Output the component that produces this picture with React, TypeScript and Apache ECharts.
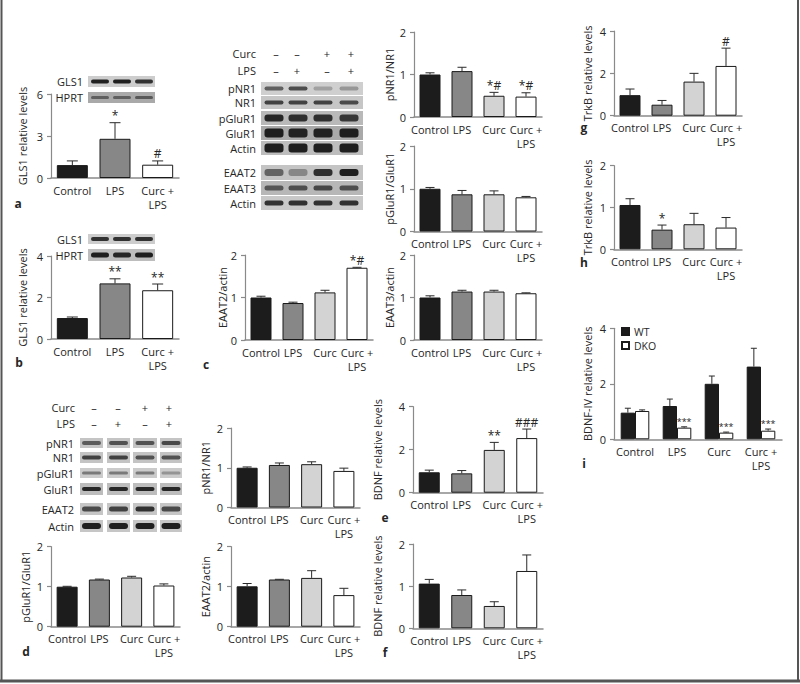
import { useEffect, useRef } from 'react';
import * as echarts from 'echarts';

const FONT = '"Open Sans", "DejaVu Sans", sans-serif';
const TXT = '#262626';
const AXIS = '#8a8a8a';

// ---------- categories ----------
const CATS3 = ['Control', 'LPS', 'Curc +\nLPS'];
const CATS4 = ['Control', 'LPS', 'Curc', 'Curc +\nLPS'];
const GROUPS_I = ['Control', 'LPS', 'Curc', 'Curc +\nLPS'];

// ---------- data ----------
// a
const glsA = [0.92, 2.8, 0.95];
const glsAErr = [0.3, 1.15, 0.27];
const glsASig = ['', '*', '#'];
// b
const glsB = [1.01, 2.68, 2.35];
const glsBErr = [0.05, 0.22, 0.3];
const glsBSig = ['', '**', '**'];
// c
const eaat2C = [1.0, 0.87, 1.12, 1.7];
const eaat2CErr = [0.03, 0.02, 0.05, 0.01];
const eaat2CSig = ['', '', '', '*#'];
// c right column
const pnr1C = [1.0, 1.08, 0.5, 0.48];
const pnr1CErr = [0.04, 0.09, 0.08, 0.09];
const pnr1CSig = ['', '', '*#', '*#'];
const pgluC = [1.0, 0.87, 0.87, 0.8];
const pgluCErr = [0.03, 0.09, 0.08, 0.02];
const eaat3C = [1.0, 1.14, 1.14, 1.1];
const eaat3CErr = [0.04, 0.03, 0.03, 0.01];
// g, h
const trkbG = [0.97, 0.52, 1.61, 2.35];
const trkbGErr = [0.29, 0.2, 0.39, 0.84];
const trkbGSig = ['', '', '', '#'];
const trkbH = [1.06, 0.47, 0.6, 0.52];
const trkbHErr = [0.15, 0.11, 0.26, 0.24];
const trkbHSig = ['', '*', '', ''];
// d
const pnr1D = [1.0, 1.07, 1.09, 0.92];
const pnr1DErr = [0.02, 0.05, 0.06, 0.07];
const pgluD = [1.0, 1.18, 1.23, 1.03];
const pgluDErr = [0.01, 0.01, 0.03, 0.04];
const eaat2D = [1.01, 1.18, 1.22, 0.79];
const eaat2DErr = [0.07, 0.005, 0.18, 0.17];
// e, f
const bdnfE = [0.95, 0.9, 1.99, 2.54];
const bdnfEErr = [0.1, 0.13, 0.35, 0.42];
const bdnfESig = ['', '', '**', '###'];
const bdnfF = [1.06, 0.79, 0.53, 1.36];
const bdnfFErr = [0.1, 0.12, 0.1, 0.38];
// i
const bdnfWT = [0.96, 1.2, 2.0, 2.62];
const bdnfWTErr = [0.16, 0.25, 0.28, 0.66];
const bdnfDKO = [1.02, 0.42, 0.24, 0.31];
const bdnfDKOErr = [0.04, 0.03, 0.02, 0.06];
const bdnfDKOSig = ['', '***', '***', '***'];

// ---------- blot band intensities ----------
const blotAGls1 = [0.95, 0.95, 0.85];
const blotAHprt = [0.5, 0.5, 0.55];
const blotBGls1 = [0.85, 0.85, 0.85];
const blotBHprt = [0.95, 0.9, 0.95];
const midPnr1 = [0.6, 0.7, 0.25, 0.3];
const midNr1 = [0.75, 0.75, 0.75, 0.7];
const midPglu = [0.9, 0.85, 0.85, 0.8];
const midGlu = [0.95, 0.92, 0.92, 0.95];
const midActin1 = [0.95, 0.95, 0.95, 0.95];
const midEaat2 = [0.55, 0.35, 0.85, 0.95];
const midEaat3 = [0.6, 0.65, 0.7, 0.65];
const midActin2 = [0.85, 0.85, 0.85, 0.85];
const dPnr1 = [0.6, 0.65, 0.65, 0.7];
const dNr1 = [0.75, 0.75, 0.65, 0.65];
const dPglu = [0.45, 0.45, 0.45, 0.3];
const dGlu = [0.9, 0.9, 0.9, 0.9];
const dEaat2 = [0.7, 0.75, 0.85, 0.7];
const dActin = [0.95, 0.95, 0.95, 0.95];

const FILL3 = ['#1c1c1c', '#878787', '#ffffff'];
const FILL4 = ['#1c1c1c', '#878787', '#d3d3d3', '#ffffff'];

type Panel = {
  cats: string[]; values: number[]; errs: number[]; sig?: string[];
  left: number; right: number; top: number; bottom: number;
  max: number; interval: number; barWidth: number; capW: number;
  ylabel: string; ylx: number; fills: string[];
};

const PANELS: Panel[] = [
  { cats: CATS3, values: glsA, errs: glsAErr, sig: glsASig, left: 51, right: 179, top: 94, bottom: 178, max: 6, interval: 3, barWidth: 31, capW: 11, ylabel: 'GLS1 relative levels', ylx: 22, fills: FILL3 },
  { cats: CATS3, values: glsB, errs: glsBErr, sig: glsBSig, left: 51, right: 179, top: 256, bottom: 339, max: 4, interval: 2, barWidth: 31, capW: 11, ylabel: 'GLS1 relative levels', ylx: 22, fills: FILL3 },
  { cats: CATS4, values: eaat2C, errs: eaat2CErr, sig: eaat2CSig, left: 245, right: 373, top: 255, bottom: 340, max: 2, interval: 1, barWidth: 21, capW: 9, ylabel: 'EAAT2/actin', ylx: 222, fills: FILL4 },
  { cats: CATS4, values: pnr1C, errs: pnr1CErr, sig: pnr1CSig, left: 414, right: 542, top: 32, bottom: 117, max: 2, interval: 1, barWidth: 21, capW: 9, ylabel: 'pNR1/NR1', ylx: 389, fills: FILL4 },
  { cats: CATS4, values: pgluC, errs: pgluCErr, left: 414, right: 542, top: 146, bottom: 231.5, max: 2, interval: 1, barWidth: 21, capW: 9, ylabel: 'pGluR1/GluR1', ylx: 389, fills: FILL4 },
  { cats: CATS4, values: eaat3C, errs: eaat3CErr, left: 414, right: 542, top: 255, bottom: 340, max: 2, interval: 1, barWidth: 21, capW: 9, ylabel: 'EAAT3/actin', ylx: 389, fills: FILL4 },
  { cats: CATS4, values: trkbG, errs: trkbGErr, sig: trkbGSig, left: 614, right: 742, top: 31, bottom: 115.7, max: 4, interval: 2, barWidth: 21, capW: 9, ylabel: 'TrkB relative levels', ylx: 587, fills: FILL4 },
  { cats: CATS4, values: trkbH, errs: trkbHErr, sig: trkbHSig, left: 614, right: 742, top: 165.7, bottom: 249.3, max: 2, interval: 1, barWidth: 21, capW: 9, ylabel: 'TrkB relative levels', ylx: 587, fills: FILL4 },
  { cats: CATS4, values: pnr1D, errs: pnr1DErr, left: 231, right: 360, top: 428, bottom: 507.5, max: 2, interval: 1, barWidth: 21, capW: 9, ylabel: 'pNR1/NR1', ylx: 205, fills: FILL4 },
  { cats: CATS4, values: pgluD, errs: pgluDErr, left: 51, right: 180, top: 546.7, bottom: 626.7, max: 2, interval: 1, barWidth: 21, capW: 9, ylabel: 'pGluR1/GluR1', ylx: 25, fills: FILL4 },
  { cats: CATS4, values: eaat2D, errs: eaat2DErr, left: 231, right: 360, top: 546.7, bottom: 626.7, max: 2, interval: 1, barWidth: 21, capW: 9, ylabel: 'EAAT2/actin', ylx: 205, fills: FILL4 },
  { cats: CATS4, values: bdnfE, errs: bdnfEErr, sig: bdnfESig, left: 413, right: 543, top: 406.7, bottom: 492.7, max: 4, interval: 2, barWidth: 21, capW: 9, ylabel: 'BDNF relative levels', ylx: 377, fills: FILL4 },
  { cats: CATS4, values: bdnfF, errs: bdnfFErr, left: 413, right: 543, top: 544, bottom: 628.3, max: 2, interval: 1, barWidth: 21, capW: 9, ylabel: 'BDNF relative levels', ylx: 377, fills: FILL4 },
];

const PANEL_I = { left: 614, right: 782, top: 328.3, bottom: 439.3, max: 4, interval: 2, barWidth: 14.3, capW: 6, ylabel: 'BDNF-IV relative levels', ylx: 587 };

const LETTERS: [string, number, number][] = [
  ['a', 18, 203], ['b', 19, 362], ['c', 206, 364], ['d', 26, 651], ['e', 385, 517],
  ['f', 385, 652], ['g', 584, 127], ['h', 584, 262], ['i', 584, 463],
];

function axesFor(i: number, p: { left: number; right: number; top: number; bottom: number; max: number; interval: number }, cats: string[]) {
  const grid = { left: p.left, top: p.top, width: p.right - p.left, height: p.bottom - p.top };
  const xAxis = {
    type: 'category', gridIndex: i, data: cats,
    axisLine: { lineStyle: { color: AXIS, width: 1.5 } },
    axisTick: { show: false },
    axisLabel: { interval: 0, margin: 5, fontSize: 11, lineHeight: 14, color: TXT, fontFamily: FONT },
  };
  const yAxis = {
    type: 'value', gridIndex: i, min: 0, max: p.max, interval: p.interval,
    splitLine: { show: false },
    axisLine: { show: true, lineStyle: { color: AXIS, width: 1.2 } },
    axisTick: { show: true, length: 4, lineStyle: { color: AXIS, width: 1.2 } },
    axisLabel: { margin: 8, fontSize: 11, color: TXT, fontFamily: FONT },
  };
  return { grid, xAxis, yAxis };
}

function errSeries(i: number, values: number[], errs: number[], sig: string[] | undefined, capW: number, off: number, sigSize: number) {
  return {
    type: 'custom', xAxisIndex: i, yAxisIndex: i, z: 5, silent: true,
    data: values.map((v, k) => [k, v, errs[k]]),
    renderItem: (params: any, api: any) => {
      const k = api.value(0), v = api.value(1), e = api.value(2);
      const base = api.coord([k, v]);
      const top = api.coord([k, v + e]);
      const x = base[0] + off;
      const children: any[] = [];
      if (e > 0.004) {
        children.push({ type: 'line', shape: { x1: x, y1: base[1], x2: x, y2: top[1] }, style: { stroke: '#2a2a2a', lineWidth: 1 } });
        children.push({ type: 'line', shape: { x1: x - capW / 2, y1: top[1], x2: x + capW / 2, y2: top[1] }, style: { stroke: '#2a2a2a', lineWidth: 1 } });
      }
      const s = sig ? sig[params.dataIndex] : '';
      if (s) {
        children.push({ type: 'text', style: { text: s, x, y: top[1] - 1, align: 'center', verticalAlign: 'bottom', fontSize: sigSize, fill: TXT, fontFamily: FONT } });
      }
      return { type: 'group', children };
    },
  };
}

function textEl(text: string, x: number, y: number, opts: any = {}) {
  return {
    type: 'text', x, y, silent: true, rotation: opts.rotation || 0,
    style: {
      text, fontSize: opts.fontSize || 11, fontFamily: FONT, fill: TXT,
      fontWeight: opts.fontWeight || 'normal',
      align: opts.align || 'center', verticalAlign: 'middle',
    },
  };
}

function stripEl(x0: number, x1: number, y0: number, y1: number, bg: string) {
  return { type: 'rect', silent: true, shape: { x: x0, y: y0, width: x1 - x0, height: y1 - y0 }, style: { fill: bg } };
}

function bandsEl(centers: number[], w: number, cy: number, h: number, inten: number[]) {
  return centers.map((cx, k) => ({
    type: 'rect', silent: true,
    shape: { x: cx - w / 2, y: cy - h / 2, width: w, height: h, r: Math.min(h / 2, 3) },
    style: { fill: `rgba(22,22,22,${inten[k]})` },
  }));
}

function blotGraphics() {
  const g: any[] = [];
  // a, b
  const abLanes = [100, 122, 144];
  const abRows: [string, number, number, number, string, number[]][] = [
    ['GLS1', 76, 87, 4, '#cdcdcd', blotAGls1],
    ['HPRT', 92, 103, 3, '#a9a9a9', blotAHprt],
    ['GLS1', 234, 244, 4, '#cdcdcd', blotBGls1],
    ['HPRT', 249, 261, 5, '#bdbdbd', blotBHprt],
  ];
  abRows.forEach(([lab, y0, y1, h, bg, inten]) => {
    g.push(stripEl(88, 155, y0, y1, bg));
    g.push(...bandsEl(abLanes, 18, (y0 + y1) / 2, h, inten));
    g.push(textEl(lab, 83, (y0 + y1) / 2, { align: 'right' }));
  });
  // middle blot
  const midLanes = [274, 298, 323, 349];
  const midRows: [string, number, number, number, string, number[]][] = [
    ['pNR1', 82, 95, 4, '#cfcfcf', midPnr1],
    ['NR1', 96, 109, 4, '#c6c6c6', midNr1],
    ['pGluR1', 111, 125, 7, '#b9b9b9', midPglu],
    ['GluR1', 126, 140, 9, '#a9a9a9', midGlu],
    ['Actin', 141, 155, 9, '#bdbdbd', midActin1],
    ['EAAT2', 165, 180, 7, '#c4c4c4', midEaat2],
    ['EAAT3', 181, 195, 5, '#b7b7b7', midEaat3],
    ['Actin', 196, 210, 5, '#c8c8c8', midActin2],
  ];
  midRows.forEach(([lab, y0, y1, h, bg, inten]) => {
    g.push(stripEl(261, 363, y0, y1, bg));
    g.push(...bandsEl(midLanes, 19, (y0 + y1) / 2, h, inten));
    g.push(textEl(lab, 256, (y0 + y1) / 2, { align: 'right' }));
  });
  g.push(textEl('Curc', 256, 53, { align: 'right' }));
  g.push(textEl('LPS', 256, 70, { align: 'right' }));
  const midSignX = [276, 297, 327, 351];
  ['–', '–', '+', '+'].forEach((s, k) => g.push(textEl(s, midSignX[k], 53)));
  ['–', '+', '–', '+'].forEach((s, k) => g.push(textEl(s, midSignX[k], 70)));
  // d blot
  const dBoxes: [number, number][] = [[80, 103], [107, 130], [133, 157], [160, 182]];
  const dRows: [string, number, number, number, string, number[]][] = [
    ['pNR1', 438, 448, 4, '#c4c4c4', dPnr1],
    ['NR1', 452, 463, 4, '#c4c4c4', dNr1],
    ['pGluR1', 468, 478, 3, '#cbcbcb', dPglu],
    ['GluR1', 483, 495, 4, '#bdbdbd', dGlu],
    ['EAAT2', 503, 515, 5, '#c6c6c6', dEaat2],
    ['Actin', 520, 532, 6, '#c6c6c6', dActin],
  ];
  dRows.forEach(([lab, y0, y1, h, bg, inten]) => {
    dBoxes.forEach(([a, b]) => g.push(stripEl(a, b, y0, y1, bg)));
    g.push(...bandsEl(dBoxes.map(([a, b]) => (a + b) / 2), 19, (y0 + y1) / 2, h, inten));
    g.push(textEl(lab, 74, (y0 + y1) / 2, { align: 'right' }));
  });
  g.push(textEl('Curc', 75, 407, { align: 'right' }));
  g.push(textEl('LPS', 75, 423, { align: 'right' }));
  const dSignX = [94, 118, 145, 169];
  ['–', '–', '+', '+'].forEach((s, k) => g.push(textEl(s, dSignX[k], 407)));
  ['–', '+', '–', '+'].forEach((s, k) => g.push(textEl(s, dSignX[k], 423)));
  return g;
}

function legendFor(name: string, top: number) {
  return {
    data: [name], orient: 'vertical', left: 621, top, itemWidth: 7, itemHeight: 7, itemGap: 0,
    icon: 'rect', selectedMode: false, padding: 0,
    textStyle: { fontSize: 10.5, fontFamily: FONT, color: TXT, lineHeight: 11 },
  };
}

function buildOption() {
  const grid: any[] = [], xAxis: any[] = [], yAxis: any[] = [], series: any[] = [];
  const graphic: any[] = [];
  PANELS.forEach((p, i) => {
    const a = axesFor(i, p, p.cats);
    grid.push(a.grid); xAxis.push(a.xAxis); yAxis.push(a.yAxis);
    series.push({
      type: 'bar', xAxisIndex: i, yAxisIndex: i, barWidth: p.barWidth, silent: true,
      data: p.values.map((v, k) => ({ value: v, itemStyle: { color: p.fills[k], borderColor: '#1a1a1a', borderWidth: 1 } })),
    });
    series.push(errSeries(i, p.values, p.errs, p.sig, p.capW, 0, 12));
    graphic.push(textEl(p.ylabel, p.ylx, (p.top + p.bottom) / 2, { rotation: Math.PI / 2 }));
  });
  // panel i
  const gi = PANELS.length;
  const ai = axesFor(gi, PANEL_I, GROUPS_I);
  grid.push(ai.grid); xAxis.push(ai.xAxis); yAxis.push(ai.yAxis);
  const half = PANEL_I.barWidth / 2;
  series.push({
    name: 'WT', type: 'bar', xAxisIndex: gi, yAxisIndex: gi, barWidth: PANEL_I.barWidth, barGap: '0%', silent: true,
    itemStyle: { color: '#1c1c1c', borderColor: '#1a1a1a', borderWidth: 1 }, data: bdnfWT,
  });
  series.push({
    name: 'DKO', type: 'bar', xAxisIndex: gi, yAxisIndex: gi, barWidth: PANEL_I.barWidth, barGap: '0%', silent: true,
    itemStyle: { color: '#ffffff', borderColor: '#1a1a1a', borderWidth: 1 }, data: bdnfDKO,
  });
  series.push(errSeries(gi, bdnfWT, bdnfWTErr, undefined, PANEL_I.capW, -half, 9));
  series.push(errSeries(gi, bdnfDKO, bdnfDKOErr, bdnfDKOSig, PANEL_I.capW, half, 9));
  graphic.push(textEl(PANEL_I.ylabel, PANEL_I.ylx, (PANEL_I.top + PANEL_I.bottom) / 2, { rotation: Math.PI / 2 }));

  LETTERS.forEach(([t, x, y]) => graphic.push(textEl(t, x, y, { fontWeight: 'bold', fontSize: 12 })));
  graphic.push(...blotGraphics());
  // frame
  graphic.push({ type: 'line', silent: true, shape: { x1: 1.5, y1: 0, x2: 1.5, y2: 682 }, style: { stroke: '#555', lineWidth: 2 } });
  graphic.push({ type: 'line', silent: true, shape: { x1: 798, y1: 0, x2: 798, y2: 682 }, style: { stroke: '#555', lineWidth: 2 } });
  graphic.push({ type: 'line', silent: true, shape: { x1: 0, y1: 681, x2: 800, y2: 681 }, style: { stroke: '#555', lineWidth: 3 } });

  return {
    animation: false,
    backgroundColor: '#ffffff',
    grid, xAxis, yAxis, series, graphic,
    legend: [legendFor('WT', 326), legendFor('DKO', 340)],
  };
}

export default function App() {
  const ref = useRef<HTMLDivElement>(null);
  useEffect(() => {
    const chart = echarts.init(ref.current!, undefined, { renderer: 'svg' });
    chart.setOption(buildOption() as any);
    return () => chart.dispose();
  }, []);
  return <div ref={ref} style={{ position: 'absolute', left: 0, top: 0, width: 800, height: 684, background: '#fff' }} />;
}
